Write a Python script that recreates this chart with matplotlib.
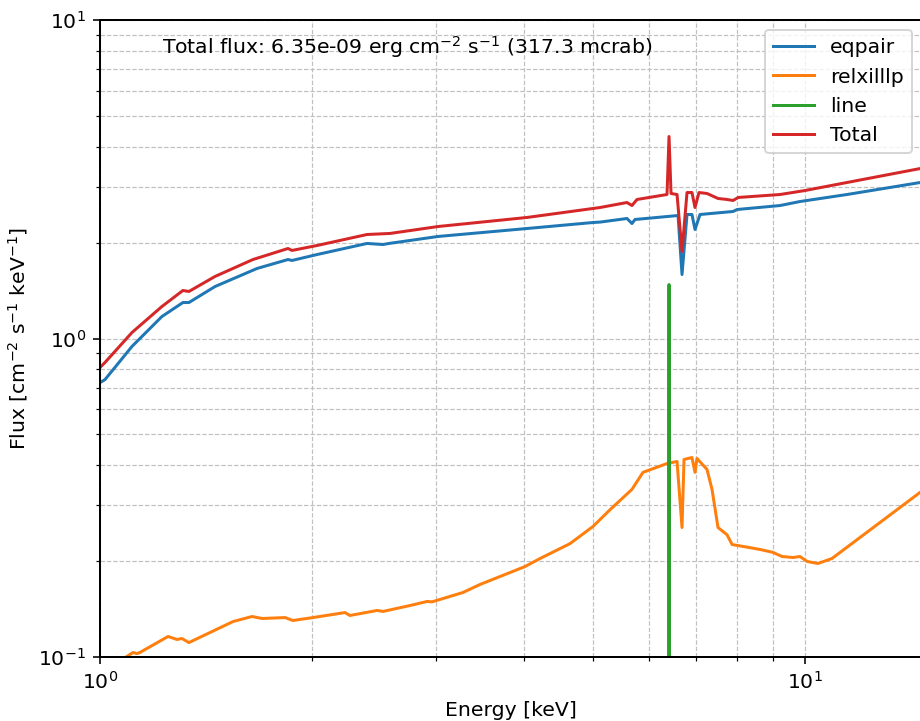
import numpy as np
import matplotlib
matplotlib.use('Agg')
import matplotlib.pyplot as plt

# Energy grid [keV] and flux [cm^-2 s^-1 keV^-1]
eqpair_energy = [1.0, 1.0165, 1.110, 1.224, 1.311, 1.337, 1.456, 1.670, 1.848, 1.872,
                 2.032, 2.392, 2.520, 2.578, 3.017, 4.034, 5.004, 5.120, 5.591, 5.683,
                 5.740, 6.606, 6.692, 6.802, 6.913, 6.982, 7.097, 7.906, 8.011, 9.216,
                 9.838, 11.47, 14.65]
eqpair_flux = [0.727, 0.743, 0.944, 1.172, 1.297, 1.297, 1.456, 1.659, 1.770, 1.758,
               1.835, 1.988, 1.973, 1.990, 2.091, 2.215, 2.313, 2.320, 2.381, 2.296,
               2.364, 2.433, 1.588, 2.451, 2.451, 2.199, 2.451, 2.505, 2.541, 2.615,
               2.692, 2.832, 3.095]

relxilllp_energy = [1.085, 1.114, 1.128, 1.139, 1.249, 1.286, 1.307, 1.337, 1.544, 1.643,
                    1.698, 1.830, 1.878, 2.005, 2.226, 2.262, 2.472, 2.520, 2.753, 2.910,
                    2.958, 3.272, 3.459, 4.007, 4.209, 4.642, 5.004, 5.290, 5.683, 5.891,
                    6.372, 6.584, 6.692, 6.736, 6.913, 6.982, 7.027, 7.261, 7.381, 7.527,
                    7.752, 7.881, 8.635, 9.009, 9.277, 9.616, 9.838, 10.07, 10.43, 10.92,
                    14.65]
relxilllp_flux = [0.0995, 0.1033, 0.1025, 0.1033, 0.1160, 0.1135, 0.1143, 0.1110, 0.1292, 0.1340,
                  0.1321, 0.1330, 0.1302, 0.1330, 0.1379, 0.1350, 0.1400, 0.1390, 0.1451, 0.1494,
                  0.1490, 0.1594, 0.1689, 0.1923, 0.2038, 0.2270, 0.2570, 0.2900, 0.3360, 0.3800,
                  0.4050, 0.4110, 0.2550, 0.4170, 0.4230, 0.3800, 0.4200, 0.3880, 0.3360, 0.2550,
                  0.2420, 0.2255, 0.2176, 0.2130, 0.2068, 0.2053, 0.2068, 0.1995, 0.1966, 0.2038,
                  0.3320]

line_energy = [6.372, 6.414, 6.456]
line_flux = [1e-30, 1.477, 1e-30]

total_energy = [1.0, 1.0165, 1.110, 1.224, 1.311, 1.337, 1.456, 1.648, 1.848, 1.872,
                2.032, 2.392, 2.578, 3.017, 4.034, 5.004, 5.120, 5.591, 5.683, 5.777,
                6.372, 6.414, 6.456, 6.584, 6.692, 6.802, 6.913, 6.982, 7.073, 7.261,
                7.527, 7.752, 7.906, 8.039, 9.216, 10.0, 11.47, 14.65]
total_flux = [0.811, 0.841, 1.044, 1.260, 1.415, 1.405, 1.566, 1.770, 1.917, 1.890,
              1.959, 2.121, 2.137, 2.247, 2.399, 2.560, 2.578, 2.673, 2.615, 2.732,
              2.832, 4.307, 2.853, 2.832, 1.876, 2.873, 2.873, 2.578, 2.873, 2.853,
              2.752, 2.732, 2.712, 2.772, 2.832, 2.915, 3.089, 3.425]

total_flux_text = 'Total flux: 6.35e-09 erg cm$^{-2}$ s$^{-1}$ (317.3 mcrab)'

plt.rcParams['font.size'] = 10.2
plt.rcParams['axes.linewidth'] = 1.0

fig = plt.figure(figsize=(920 / 144, 721 / 144), dpi=144)
ax = fig.add_axes([100 / 920, 64 / 721, 822 / 920, 637 / 721])

ax.loglog(eqpair_energy, eqpair_flux, label='eqpair')
ax.loglog(relxilllp_energy, relxilllp_flux, label='relxilllp')
ax.loglog(line_energy, line_flux, label='line')
ax.loglog(total_energy, total_flux, label='Total')

ax.set_xlim(1, 10 ** (822 / 705))
ax.set_ylim(0.1, 10)
ax.set_xlabel('Energy [keV]')
ax.set_ylabel('Flux [cm$^{-2}$ s$^{-1}$ keV$^{-1}$]')
ax.grid(True, which='both', linestyle='--', color='#c0c0c0', linewidth=0.6)
ax.text(0.0756, 0.957, total_flux_text, transform=ax.transAxes, va='center')
ax.legend(loc='upper right')

fig.savefig('out.png', dpi=144)
